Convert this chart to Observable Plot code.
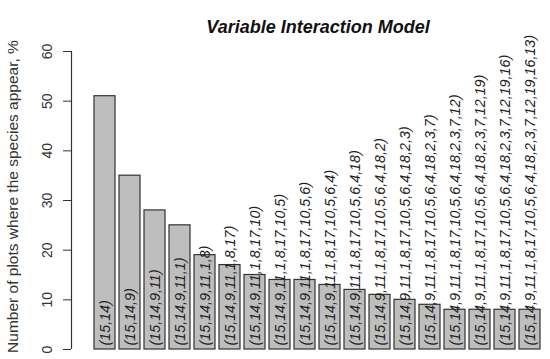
<!DOCTYPE html>
<html>
<head>
<meta charset="utf-8">
<script src="https://cdn.jsdelivr.net/npm/d3@7"></script>
<script src="https://cdn.jsdelivr.net/npm/@observablehq/plot@0.6"></script>
<style>
  html, body { margin: 0; padding: 0; background: #fff; }
  #chart svg { font-family: "Liberation Sans", Arial, sans-serif; }
</style>
</head>
<body>
<div id="chart"></div>
<script>
// Species added step by step (order of inclusion)
const speciesOrder = [15, 14, 9, 11, 1, 8, 17, 10, 5, 6, 4, 18, 2, 3, 7, 12, 19, 16, 13];
// Percent of plots where the species combination appears
const percents = [51, 35, 28, 25, 19, 17, 15, 14, 14, 13, 12, 11, 10, 9, 8, 8, 8, 8];
const yTicks = [0, 10, 20, 30, 40, 50, 60];
const title = "Variable Interaction Model";
const yTitle = "Number of plots where the species appear, %";

const labels = percents.map((_, i) => "(" + speciesOrder.slice(0, i + 2).join(",") + ")");
const data = labels.map((label, i) => ({label, value: percents[i]}));

const W = 550, H = 359, mL = 71, mR = 0, mT = 51, mB = 10;
const frameCenterX = (mL + W - mR) / 2;

const chart = Plot.plot({
  width: W,
  height: H,
  marginLeft: mL,
  marginRight: mR,
  marginTop: mT,
  marginBottom: mB,
  style: {fontFamily: "Liberation Sans, Arial, sans-serif", background: "#fff", overflow: "visible"},
  x: {type: "band", domain: labels, range: [87.2, 547.1], paddingInner: 1/6, paddingOuter: 1/12, axis: null},
  y: {domain: [0, 60], axis: null},
  marks: [
    Plot.barY(data, {x: "label", y: "value", fill: "#bebebe", stroke: "#333", strokeWidth: 1.2}),
    Plot.text(data, {x: "label", y: 0, text: "label", rotate: -90, textAnchor: "start", lineAnchor: "middle",
      dy: -4, fontSize: 14.3, fontStyle: "italic", fill: "#222"}),
    // y axis line (R style: spans the tick range only)
    Plot.ruleX([0], {x: null, y1: () => yTicks[0], y2: () => yTicks[yTicks.length - 1], dx: mL - frameCenterX, stroke: "#333", strokeWidth: 1.2}),
    Plot.axisY({ticks: yTicks, tickSize: 8, tickPadding: 12, tickRotate: -90, fontSize: 14, color: "#333", stroke: "#333", label: null}),
    Plot.text([yTitle], {frameAnchor: "left", rotate: -90, dx: -58, fontSize: 15.5, fill: "#333", textAnchor: "middle", lineAnchor: "middle", dy: -4}),
    Plot.text([title], {frameAnchor: "top", dx: 317.5 - frameCenterX, dy: -31, lineAnchor: "top", fontSize: 18, fontWeight: "bold", fontStyle: "italic", fill: "#111"})
  ]
});
document.getElementById("chart").appendChild(chart);
</script>
</body>
</html>
